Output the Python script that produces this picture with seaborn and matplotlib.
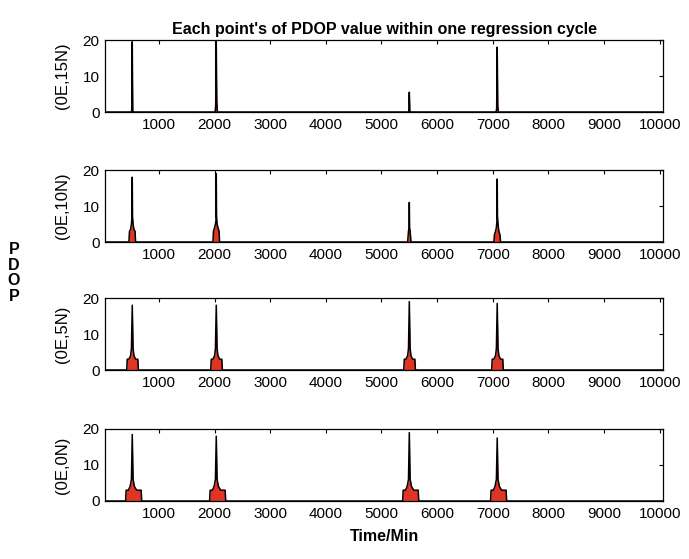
import seaborn as sns
import matplotlib.pyplot as plt
import pandas as pd
import numpy as np

# spike positions (minutes) shared by all panels
spike_centers = [520, 2030, 5500, 7080]
panel_labels = ["(0E,15N)", "(0E,10N)", "(0E,5N)", "(0E,0N)"]

# offsets (min) around each spike centre, one list per panel
offsets_15n = [-20, -10, -5, 0, 5, 10, 20]
offsets_10n = [-60, -50, -30, -15, -5, 0, 5, 15, 30, 50, 60]
offsets_5n = [-100, -90, -60, -30, -15, 0, 15, 30, 60, 100, 110]
offsets_0n = [-120, -110, -70, -40, -15, 0, 15, 40, 80, 160, 170]

# PDOP values at those offsets, one list per spike
pdop_15n = [[0, 0, 7, 19.5, 8, 0, 0],
            [0, 2, 10, 19.5, 10, 3, 0],
            [0, 0, 3.5, 5.5, 3, 0, 0],
            [0, 1, 10, 18, 10, 2, 0]]
pdop_10n = [[0, 3, 3.5, 5, 7, 18, 7, 5, 3.5, 3, 0],
            [0, 3, 4, 5, 6, 19, 7, 5, 4, 3, 0],
            [0, 0, 0, 3, 4, 11, 4, 3, 0, 0, 0],
            [0, 2, 3, 4, 6, 17.5, 7, 5, 3, 2, 0]]
pdop_5n = [[0, 3, 3, 4, 6, 18, 6, 4, 3, 3, 0],
           [0, 3, 3, 4, 6, 18, 6, 4, 3, 3, 0],
           [0, 3, 3, 4, 6, 19, 6, 4, 3, 3, 0],
           [0, 3, 3, 4, 6, 18.5, 6, 4, 3, 3, 0]]
pdop_0n = [[0, 3, 3, 4, 6, 18.5, 6, 4, 3, 3, 0],
           [0, 3, 3, 4, 6, 18, 6, 4, 3, 3, 0],
           [0, 3, 3, 4, 6, 19, 6, 4, 3, 3, 0],
           [0, 3, 3, 4, 6, 17.5, 6, 4, 3, 3, 0]]

panel_offsets = [offsets_15n, offsets_10n, offsets_5n, offsets_0n]
panel_values = [pdop_15n, pdop_10n, pdop_5n, pdop_0n]

x_ticks = [1000, 2000, 3000, 4000, 5000, 6000, 7000, 8000, 9000, 10000]
y_ticks = [0, 10, 20]

sns.set_style("white")
plt.rcParams['font.family'] = ['Liberation Sans', 'DejaVu Sans']
plt.rcParams['text.color'] = 'black'
plt.rcParams['axes.labelcolor'] = 'black'

fig = plt.figure(figsize=(6.89, 5.59), dpi=100)
W, H = 689, 559
tops = [40, 170, 298, 429]
ax_h = 72
left, right = 105, 663

for i in range(4):
    ax = fig.add_axes([left / W, 1 - (tops[i] + ax_h) / H, (right - left) / W, ax_h / H])
    xs, ys = [0], [0]
    for c, vals in zip(spike_centers, panel_values[i]):
        xs += [c + o for o in panel_offsets[i]]
        ys += vals
    xs.append(10100)
    ys.append(0)
    df = pd.DataFrame({"time": xs, "pdop": ys})
    ax.fill_between(df["time"], df["pdop"], color="#e03424", lw=0)
    sns.lineplot(data=df, x="time", y="pdop", ax=ax, color="black", lw=1.1,
                 sort=False, estimator=None)
    ax.set_xlim(30, 10060)
    ax.set_ylim(0, 20)
    ax.set_xticks(x_ticks)
    ax.set_yticks(y_ticks)
    ax.tick_params(direction="in", length=3, width=0.8, labelsize=11,
                   top=True, right=True, pad=4, colors="black")
    for s in ax.spines.values():
        s.set_linewidth(0.9)
        s.set_color("black")
    ax.set_xlabel("")
    ax.set_ylabel(panel_labels[i], fontsize=12, labelpad=9)
    if i == 0:
        ax.set_title("Each point's of PDOP value within one regression cycle",
                     fontsize=11.5, fontweight="bold", pad=4)
    if i == 3:
        ax.set_xlabel("Time/Min", fontsize=11.5, fontweight="bold", labelpad=6)

fig.text(14 / W, 1 - 273 / H, "P\nD\nO\nP", fontsize=11.5, fontweight="bold",
         ha="center", va="center", linespacing=1.05)

plt.savefig("out.png", dpi=100)
